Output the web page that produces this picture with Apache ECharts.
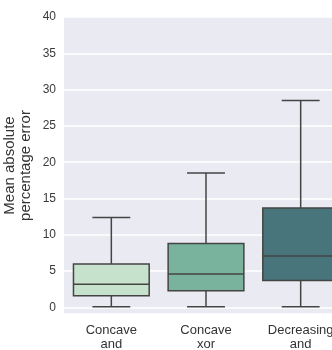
<!DOCTYPE html>
<html>
<head>
<meta charset="utf-8">
<script src="https://cdn.jsdelivr.net/npm/echarts@6/dist/echarts.min.js"></script>
<style>
  html, body { margin: 0; padding: 0; background: #fff; }
  #chart { width: 332px; height: 350px; }
</style>
</head>
<body>
<div id="chart"></div>
<script>
// values
const categories = ["Concave\nand", "Concave\nxor", "Decreasing\nand"]
const lowerWhisker = [0.1, 0.1, 0.1]
const q1 = [1.6, 2.3, 3.7]
const median = [3.2, 4.6, 7.1]
const q3 = [6.0, 8.8, 13.7]
const upperWhisker = [12.4, 18.5, 28.5]

const boxColors = ["#c6e2cc", "#79b39d", "#48747b"]
const edge = "#444444"

const rows = categories.map((_, i) => [i, lowerWhisker[i], q1[i], median[i], q3[i], upperWhisker[i]])

// draw box, median, whiskers and half-width caps like seaborn does
function renderBox(params, api) {
  const idx = api.value(0)
  const x = api.coord([idx, 0])[0]
  const band = api.size([1, 0])[0]
  const half = band * 0.4
  const cap = half * 0.5
  const y = (k) => api.coord([idx, api.value(k)])[1]
  const lo = y(1), b1 = y(2), md = y(3), b3 = y(4), hi = y(5)
  const line = { stroke: edge, lineWidth: 1.5 }
  return {
    type: "group",
    children: [
      { type: "line", shape: { x1: x, y1: lo, x2: x, y2: b1 }, style: line },
      { type: "line", shape: { x1: x, y1: b3, x2: x, y2: hi }, style: line },
      { type: "line", shape: { x1: x - cap, y1: lo, x2: x + cap, y2: lo }, style: line },
      { type: "line", shape: { x1: x - cap, y1: hi, x2: x + cap, y2: hi }, style: line },
      {
        type: "rect",
        shape: { x: x - half, y: b3, width: half * 2, height: b1 - b3 },
        style: { fill: boxColors[idx], stroke: edge, lineWidth: 1.5 },
      },
      { type: "line", shape: { x1: x - half, y1: md, x2: x + half, y2: md }, style: line },
    ],
  }
}

const chart = echarts.init(document.getElementById("chart"), null, { renderer: "canvas" })
chart.setOption({
  animation: false,
  backgroundColor: "#ffffff",
  textStyle: { fontFamily: "Liberation Sans, Arial, sans-serif" },
  grid: {
    left: 64,
    right: -16,
    top: 17,
    bottom: 36,
    outerBoundsMode: "none",
    containLabel: false,
    show: true,
    backgroundColor: "#eaeaf2",
    borderWidth: 0,
  },
  xAxis: {
    type: "category",
    data: categories,
    axisLine: { show: false },
    axisTick: { show: false },
    splitLine: { show: false },
    axisLabel: { color: "#333", fontSize: 13, lineHeight: 14, margin: 9, interval: 0, hideOverlap: false },
  },
  yAxis: {
    type: "value",
    min: -0.9,
    max: 40,
    splitNumber: 8,
    name: "Mean absolute\npercentage error",
    nameLocation: "middle",
    nameGap: 30,
    nameMoveOverlap: false,
    nameTextStyle: { color: "#333", fontSize: 15, lineHeight: 16 },
    axisLine: { show: false },
    axisTick: { show: false },
    axisLabel: {
      color: "#3a3a3a",
      fontSize: 12,
      margin: 8,
      formatter: (v) => (v < 0 ? "" : String(v)),
    },
    splitLine: { lineStyle: { color: "#ffffff", width: 1.5 } },
  },
  series: [
    {
      type: "custom",
      renderItem: renderBox,
      data: rows,
      encode: { x: 0, y: [1, 2, 3, 4, 5] },
    },
  ],
})
</script>
</body>
</html>
